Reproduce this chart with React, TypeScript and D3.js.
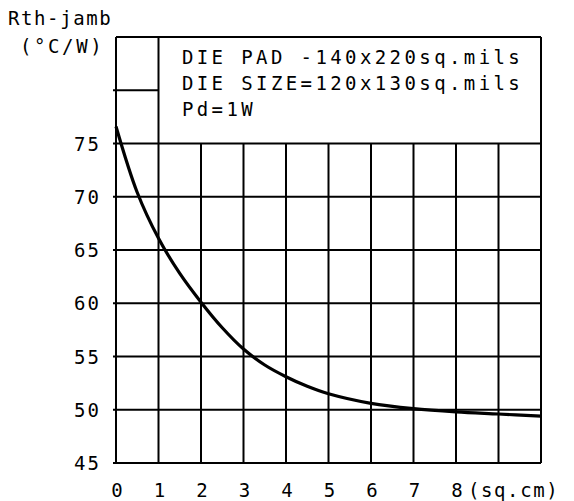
import * as d3 from 'd3';

// Thermal resistance vs. copper area
const areaSqCm = [0, 0.5, 1, 1.5, 2, 2.5, 3, 3.5, 4, 4.5, 5, 6, 7, 8, 9, 10];
const rthValues = [76.6, 70.4, 66.1, 62.8, 60.1, 57.7, 55.7, 54.2, 53.1, 52.2, 51.5, 50.6, 50.1, 49.8, 49.6, 49.4];

const yTicks = [45, 50, 55, 60, 65, 70, 75];
const xTickLabels = ['0', '1', '2', '3', '4', '5', '6', '7', '8'];
const legendLines = ['DIE PAD -140x220sq.mils', 'DIE SIZE=120x130sq.mils', 'Pd=1W'];

const W = 574;
const H = 501;
const FONT = '"DejaVu Sans Mono", monospace';

export default function App() {
  const x = d3.scaleLinear().domain([0, 10]).range([116, 541]);
  const y = d3.scaleLinear().domain([45, 85]).range([463, 37]);

  const line = d3.line<number>()
    .x((_, i) => x(areaSqCm[i]))
    .y(d => y(d))
    .curve(d3.curveCatmullRom.alpha(0.5));

  const gridX = d3.range(0, 11);
  const gridY = d3.range(45, 80, 5);

  return (
    <svg width={W} height={H} style={{ position: 'absolute', left: 0, top: 0, background: '#fff' }}>
      <rect width={W} height={H} fill="#fff" />
      <g stroke="#000" strokeWidth={2} fill="none">
        {/* horizontal grid lines up to 75 */}
        {gridY.map(v => (
          <line key={'h' + v} x1={x(0) - 3} x2={x(10)} y1={y(v)} y2={y(v)} />
        ))}
        {/* vertical grid lines in the lower area */}
        {gridX.map(v => (
          <line key={'v' + v} x1={x(v)} x2={x(v)} y1={y(45)} y2={v === 0 || v === 1 || v === 10 ? y(85) : y(75)} />
        ))}
        {/* left column 80 line and top border */}
        <line x1={x(0) - 3} x2={x(1)} y1={y(80)} y2={y(80)} />
        <line x1={x(0)} x2={x(10)} y1={y(85)} y2={y(85)} />
      </g>

      <path d={line(rthValues) ?? ''} fill="none" stroke="#000" strokeWidth={3.2} />

      <g fontFamily={FONT} fontSize={19} fill="#000" letterSpacing={3.4}>
        {legendLines.map((t, i) => (
          <text key={t} x={x(1.55)} y={y(83) + 6 + i * 26}>{t}</text>
        ))}
      </g>

      <g fontFamily={FONT} fontSize={19} fill="#000" letterSpacing={2}>
        {yTicks.map(v => (
          <text key={v} x={101} y={y(v) + 7} textAnchor="end">{v}</text>
        ))}
        {xTickLabels.map((t, i) => (
          <text key={t} x={x(i) + 2} y={497} textAnchor="middle">{t}</text>
        ))}
        <text x={x(8) + 12} y={497} letterSpacing={1.6}>(sq.cm)</text>
        <text x={8} y={25} letterSpacing={1.6}>Rth-jamb</text>
        <text x={20} y={53} letterSpacing={2.6}>(°C/W)</text>
      </g>
    </svg>
  );
}
